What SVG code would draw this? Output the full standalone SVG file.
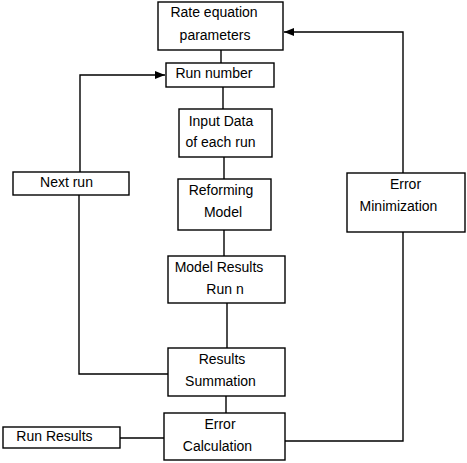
<svg xmlns="http://www.w3.org/2000/svg" width="467" height="463" viewBox="0 0 467 463">
<defs>
<marker id="arr" markerWidth="10" markerHeight="8" refX="10" refY="4" orient="auto" markerUnits="userSpaceOnUse">
<path d="M0,0 L10,4 L0,8 Z" fill="#000"/>
</marker>
<style>
.box{fill:#fff;stroke:#000;stroke-width:1.4}
.ln{fill:none;stroke:#000;stroke-width:1.4}
text{font-family:"Liberation Sans",Arial,sans-serif;font-size:14px;fill:#000;text-anchor:middle}
</style>
</defs>
<rect width="467" height="463" fill="#fff"/>
<g id="connectors">
<line class="ln" x1="221" y1="50" x2="221" y2="63"/>
<line class="ln" x1="223" y1="87" x2="223" y2="109"/>
<line class="ln" x1="224" y1="157" x2="224" y2="179"/>
<line class="ln" x1="224" y1="230" x2="224" y2="256"/>
<line class="ln" x1="227" y1="303" x2="227" y2="348"/>
<line class="ln" x1="226" y1="396" x2="226" y2="413"/>
<line class="ln" x1="120" y1="438" x2="164" y2="438"/>
<polyline class="ln" points="168,374 79,374 79,195"/>
<polyline class="ln" points="80,172 80,75 165,75" marker-end="url(#arr)"/>
<polyline class="ln" points="285,441 403,441 403,232"/>
<polyline class="ln" points="403,173 403,32 284,32" marker-end="url(#arr)"/>
</g>
<g id="rate-equation">
<rect class="box" x="158" y="2" width="125" height="48"/>
<text x="214" y="17">Rate equation</text>
<text x="215" y="40">parameters</text>
</g>
<g id="run-number">
<rect class="box" x="166" y="63" width="108" height="24"/>
<text x="214" y="78">Run number</text>
</g>
<g id="input-data">
<rect class="box" x="179" y="109" width="93" height="48"/>
<text x="221" y="126">Input Data</text>
<text x="220.5" y="147">of each run</text>
</g>
<g id="reforming-model">
<rect class="box" x="178" y="179" width="93" height="51"/>
<text x="221" y="195">Reforming</text>
<text x="223" y="217">Model</text>
</g>
<g id="model-results">
<rect class="box" x="168" y="256" width="117" height="47"/>
<text x="219" y="272">Model Results</text>
<text x="225" y="294">Run n</text>
</g>
<g id="results-summation">
<rect class="box" x="168" y="348" width="117" height="48"/>
<text x="222" y="364">Results</text>
<text x="220.5" y="386">Summation</text>
</g>
<g id="error-calculation">
<rect class="box" x="164" y="413" width="121" height="47"/>
<text x="220" y="429">Error</text>
<text x="217.5" y="451">Calculation</text>
</g>
<g id="run-results">
<rect class="box" x="3" y="427" width="117" height="21"/>
<text x="54.5" y="441">Run Results</text>
</g>
<g id="next-run">
<rect class="box" x="13" y="172" width="116" height="23"/>
<text x="66.5" y="187">Next run</text>
</g>
<g id="error-minimization">
<rect class="box" x="347" y="173" width="118" height="59"/>
<text x="405.5" y="189">Error</text>
<text x="398.5" y="211">Minimization</text>
</g>
</svg>
